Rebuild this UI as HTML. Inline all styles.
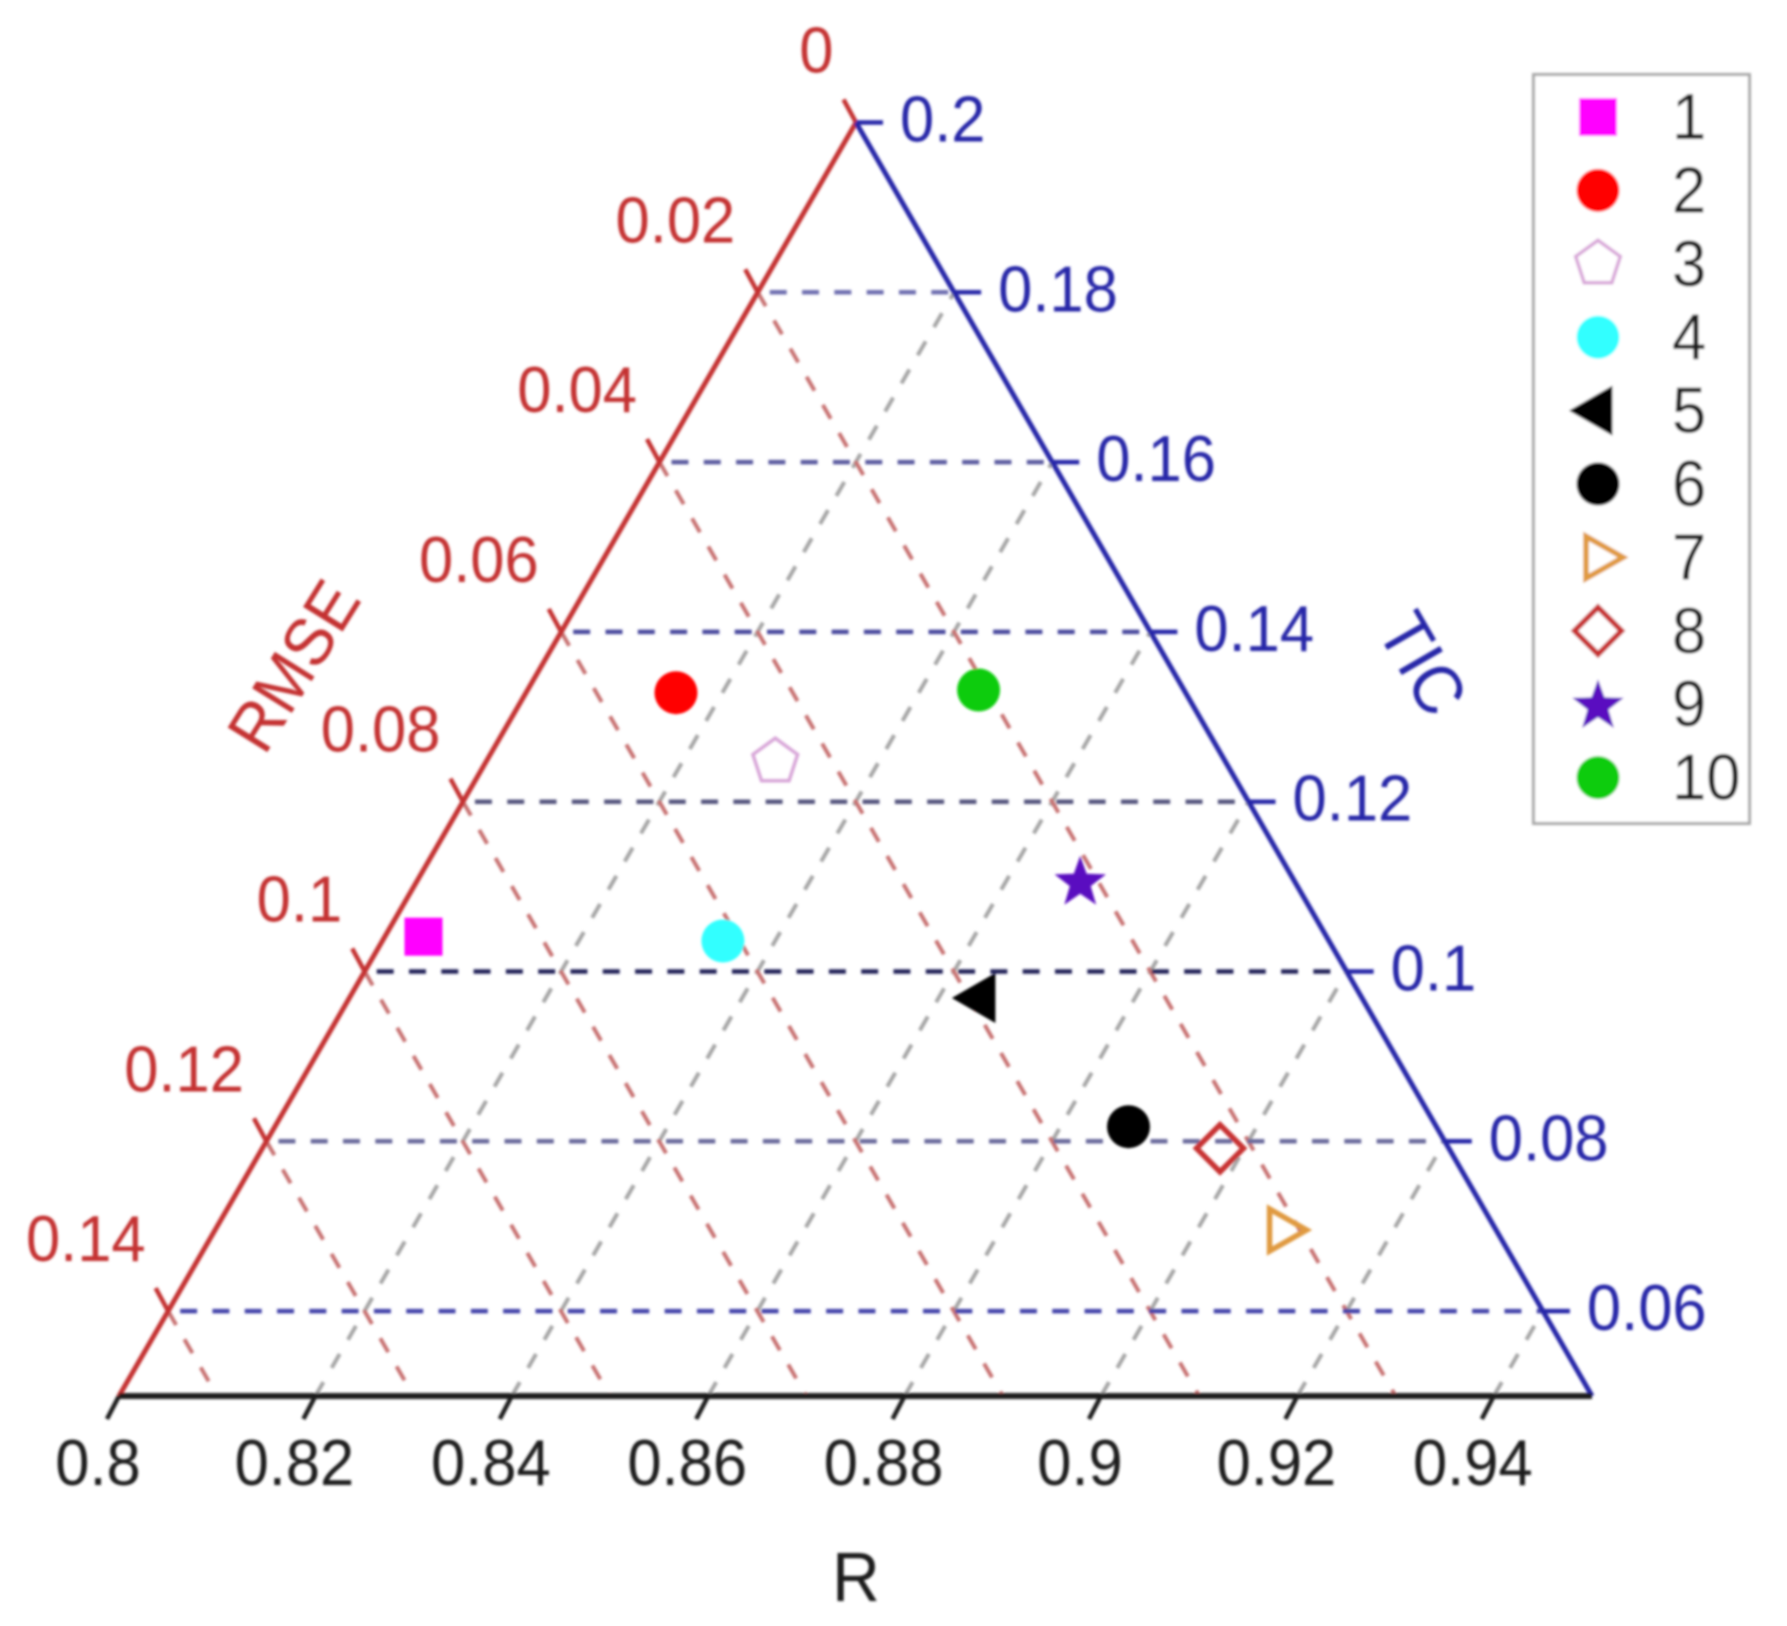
<!DOCTYPE html>
<html lang="en">
<head>
<meta charset="utf-8">
<title>Ternary diagram of R, RMSE and TIC</title>
<style>
  html, body { margin: 0; padding: 0; background: #ffffff; }
  svg { display: block; }
  text { font-family: "Liberation Sans", Arial, sans-serif; font-size: 61.5px; }
</style>
</head>
<body>
<svg id="chart" xmlns="http://www.w3.org/2000/svg" width="1787" height="1626" viewBox="0 0 1787 1626">
  <defs>
    <filter id="soft" x="-2%" y="-2%" width="104%" height="104%"><feGaussianBlur stdDeviation="1.2"/></filter>
  </defs>
  <rect width="1787" height="1626" fill="#ffffff"/>
  <g id="root" filter="url(#soft)"></g>
</svg>
<script>
// ---- data ----
const seriesNames = ['1', '2', '3', '4', '5', '6', '7', '8', '9', '10'];
const rValues    = [0.80394, 0.81527, 0.82945, 0.83468, 0.86431, 0.88693, 0.90860, 0.89753, 0.86752, 0.84593];
const rmseValues = [0.09196, 0.05189, 0.04584, 0.06172, 0.03881, 0.03135, 0.02184, 0.02330, 0.02179, 0.02092];
const ticValues  = [0.10410, 0.13284, 0.12471, 0.10359, 0.09688, 0.08172, 0.06955, 0.07918, 0.11069, 0.13316];
const markerShapes = ['square', 'circle', 'pentagon', 'circle', 'triangle-left', 'circle', 'triangle-right', 'diamond', 'star', 'circle'];

const rTicks = [0.8, 0.82, 0.84, 0.86, 0.88, 0.9, 0.92, 0.94];
const rTickLabels = ['0.8', '0.82', '0.84', '0.86', '0.88', '0.9', '0.92', '0.94'];
const rmseTicks = [0, 0.02, 0.04, 0.06, 0.08, 0.1, 0.12, 0.14];
const rmseTickLabels = ['0', '0.02', '0.04', '0.06', '0.08', '0.1', '0.12', '0.14'];
const ticTicks = [0.2, 0.18, 0.16, 0.14, 0.12, 0.1, 0.08, 0.06];
const ticTickLabels = ['0.2', '0.18', '0.16', '0.14', '0.12', '0.1', '0.08', '0.06'];

// ---- axis functions ----
const cornerLeft = { x: 119, y: 1396 };
const cornerRight = { x: 1592, y: 1396 };
const cornerTop = { x: 856, y: 122.5 };
const rFrac = v => (v - 0.8) / 0.15;
const rmseFrac = v => v / 0.15;
const ticFrac = v => (v - 0.05) / 0.15;
function bary(r, t, m) {
  const s = r + t + m;
  return {
    x: (r * cornerRight.x + t * cornerTop.x + m * cornerLeft.x) / s,
    y: (r * cornerRight.y + t * cornerTop.y + m * cornerLeft.y) / s
  };
}

// ---- palette ----
const RED = '#c43232', BLUE = '#2626a8', INK = '#1a1a1a';
const markerFill = ['#ff00ff', '#ff0000', 'none', '#33ffff', '#000000', '#000000', 'none', 'none', '#5a0fc0', '#0fcc0f'];
const markerStroke = ['none', 'none', '#d8a6d8', 'none', 'none', 'none', '#e09a40', '#c83232', 'none', 'none'];
const markerStrokeWidth = [0, 0, 3.5, 0, 0, 0, 5.5, 5.5, 0, 0];
const rowColor = { '0.18': '#6f6fb0', '0.16': '#5c5ca0', '0.14': '#4a4a9e', '0.12': '#57577f', '0.1': '#23235a', '0.08': '#6a6a9c', '0.06': '#4444aa' };

const SVGNS = 'http://www.w3.org/2000/svg';
const root = document.getElementById('root');
function el(tag, attrs, parent) {
  const n = document.createElementNS(SVGNS, tag);
  for (const k in attrs) n.setAttribute(k, attrs[k]);
  (parent || root).appendChild(n);
  return n;
}
function seg(a, b, stroke, width, dash, parent) {
  const attrs = { x1: a.x, y1: a.y, x2: b.x, y2: b.y, stroke: stroke, 'stroke-width': width };
  if (dash) attrs['stroke-dasharray'] = dash;
  return el('line', attrs, parent);
}
function label(str, x, y, anchor, fill, rot, parent, size) {
  const t = el('text', { x: 0, y: 0, 'text-anchor': anchor, fill: fill }, parent);
  const pre = rot ? 'rotate(' + rot.a + ' ' + rot.x + ' ' + rot.y + ') ' : '';
  t.setAttribute('transform', pre + 'translate(' + x + ' ' + y + ') scale(1 1.06)');
  if (size) t.style.fontSize = size + 'px';
  t.textContent = str;
  return t;
}
function polygonPoints(cx, cy, radius, count, startDeg) {
  const pts = [];
  for (let i = 0; i < count; i++) {
    const a = (startDeg + i * 360 / count) * Math.PI / 180;
    pts.push((cx + radius * Math.cos(a)).toFixed(1) + ',' + (cy + radius * Math.sin(a)).toFixed(1));
  }
  return pts.join(' ');
}
function starPoints(cx, cy, outer, inner) {
  const pts = [];
  for (let i = 0; i < 10; i++) {
    const a = (-90 + i * 36) * Math.PI / 180;
    const q = i % 2 ? inner : outer;
    pts.push((cx + q * Math.cos(a)).toFixed(1) + ',' + (cy + q * Math.sin(a)).toFixed(1));
  }
  return pts.join(' ');
}
function drawMarker(i, cx, cy, parent) {
  const shape = markerShapes[i];
  const style = { fill: markerFill[i], stroke: markerStroke[i], 'stroke-width': markerStrokeWidth[i], 'stroke-linejoin': 'miter' };
  let n;
  if (shape === 'square') {
    n = el('rect', Object.assign({ x: cx - 19, y: cy - 19, width: 38, height: 38 }, style), parent);
  } else if (shape === 'circle') {
    n = el('circle', Object.assign({ cx: cx, cy: cy, r: 21.5 }, style), parent);
  } else if (shape === 'pentagon') {
    n = el('polygon', Object.assign({ points: polygonPoints(cx, cy, 23.5, 5, -90) }, style), parent);
  } else if (shape === 'triangle-left') {
    n = el('polygon', Object.assign({ points: (cx - 29) + ',' + cy + ' ' + (cx + 14.5) + ',' + (cy - 25) + ' ' + (cx + 14.5) + ',' + (cy + 25) }, style), parent);
  } else if (shape === 'triangle-right') {
    n = el('polygon', Object.assign({ points: (cx + 25) + ',' + cy + ' ' + (cx - 12) + ',' + (cy - 21) + ' ' + (cx - 12) + ',' + (cy + 21) }, style), parent);
  } else if (shape === 'diamond') {
    n = el('polygon', Object.assign({ points: polygonPoints(cx, cy, 23.5, 4, -90) }, style), parent);
  } else {
    n = el('polygon', Object.assign({ points: starPoints(cx, cy + 2, 27, 11) }, style), parent);
  }
  return n;
}

// ---- grid ----
const gridLayer = el('g', {});



rTicks.forEach((v) => {
  if (v === 0.8) return;
  const f = rFrac(v);
  const line = seg(bary(f, 0, 1 - f), bary(f, 1 - f, 0), '#a6a6a6', 4, '16 16.5', gridLayer);
  
  
});
rmseTicks.forEach((v) => {
  if (v === 0) return;
  const f = rmseFrac(v);
  const line = seg(bary(0, 1 - f, f), bary(1 - f, 0, f), '#c87272', 4, '16 16.5', gridLayer);
  
  
});
ticTicks.forEach((v) => {
  if (v === 0.2) return;
  const f = ticFrac(v);
  const a = bary(0, f, 1 - f);
  const line = seg({ x: a.x + 12, y: a.y }, bary(1 - f, f, 0), rowColor[String(v)], 4.5, '17 15.3', gridLayer);
  
  
});

// ---- axes ----
const axisLeft = seg(cornerLeft, cornerTop, RED, 5);


const axisRight = seg(cornerTop, cornerRight, BLUE, 5);


const axisBase = seg(cornerLeft, cornerRight, '#1c1c1c', 6);



// ---- ticks and tick labels ----
rTicks.forEach((v, i) => {
  const f = rFrac(v);
  const p = bary(f, 0, 1 - f);
  const tick = seg(p, { x: p.x - 12, y: p.y + 23 }, '#1c1c1c', 4.5);
  
  
  const t = label(rTickLabels[i], p.x - 21, 1485, 'middle', INK);
  
  
});
rmseTicks.forEach((v, i) => {
  const f = rmseFrac(v);
  const p = bary(0, 1 - f, f);
  const tick = seg(p, { x: p.x - 12.5, y: p.y - 23 }, RED, 4.5);
  
  
  const t = label(rmseTickLabels[i], p.x - 22.5, p.y - 50, 'end', RED);
  
  
});
ticTicks.forEach((v, i) => {
  const f = ticFrac(v);
  const p = bary(1 - f, f, 0);
  const tick = seg(p, { x: p.x + 27, y: p.y }, BLUE, 4.5);
  
  
  const t = label(ticTickLabels[i], p.x + 44, p.y + 19, 'start', BLUE);
  
  
});

// ---- axis titles ----
const titleR = label('R', 856, 1601, 'middle', INK, null, null, 66);


const titleRmse = label('RMSE', 294, 689, 'middle', RED, { a: -58, x: 294, y: 666 }, null, 64);


const titleTic = label('TIC', 1422, 687, 'middle', BLUE, { a: 60, x: 1422, y: 664 }, null, 65);



// ---- data points ----
seriesNames.forEach((name, i) => {
  const p = bary(rFrac(rValues[i]), ticFrac(ticValues[i]), rmseFrac(rmseValues[i]));
  const m = drawMarker(i, p.x, p.y);
  
  
});

// ---- legend ----
const legend = el('g', {});


const legendBox = el('rect', { x: 1533.5, y: 74.5, width: 216, height: 749, fill: '#ffffff', stroke: '#a8a8a8', 'stroke-width': 3 }, legend);


seriesNames.forEach((name, i) => {
  const rowY = 117 + i * 73.4;
  const m = drawMarker(i, 1598, rowY, legend);
  
  
  const t = label(name, 1672, rowY + 22, 'start', INK, null, legend);
  
  
});
</script>
</body>
</html>
